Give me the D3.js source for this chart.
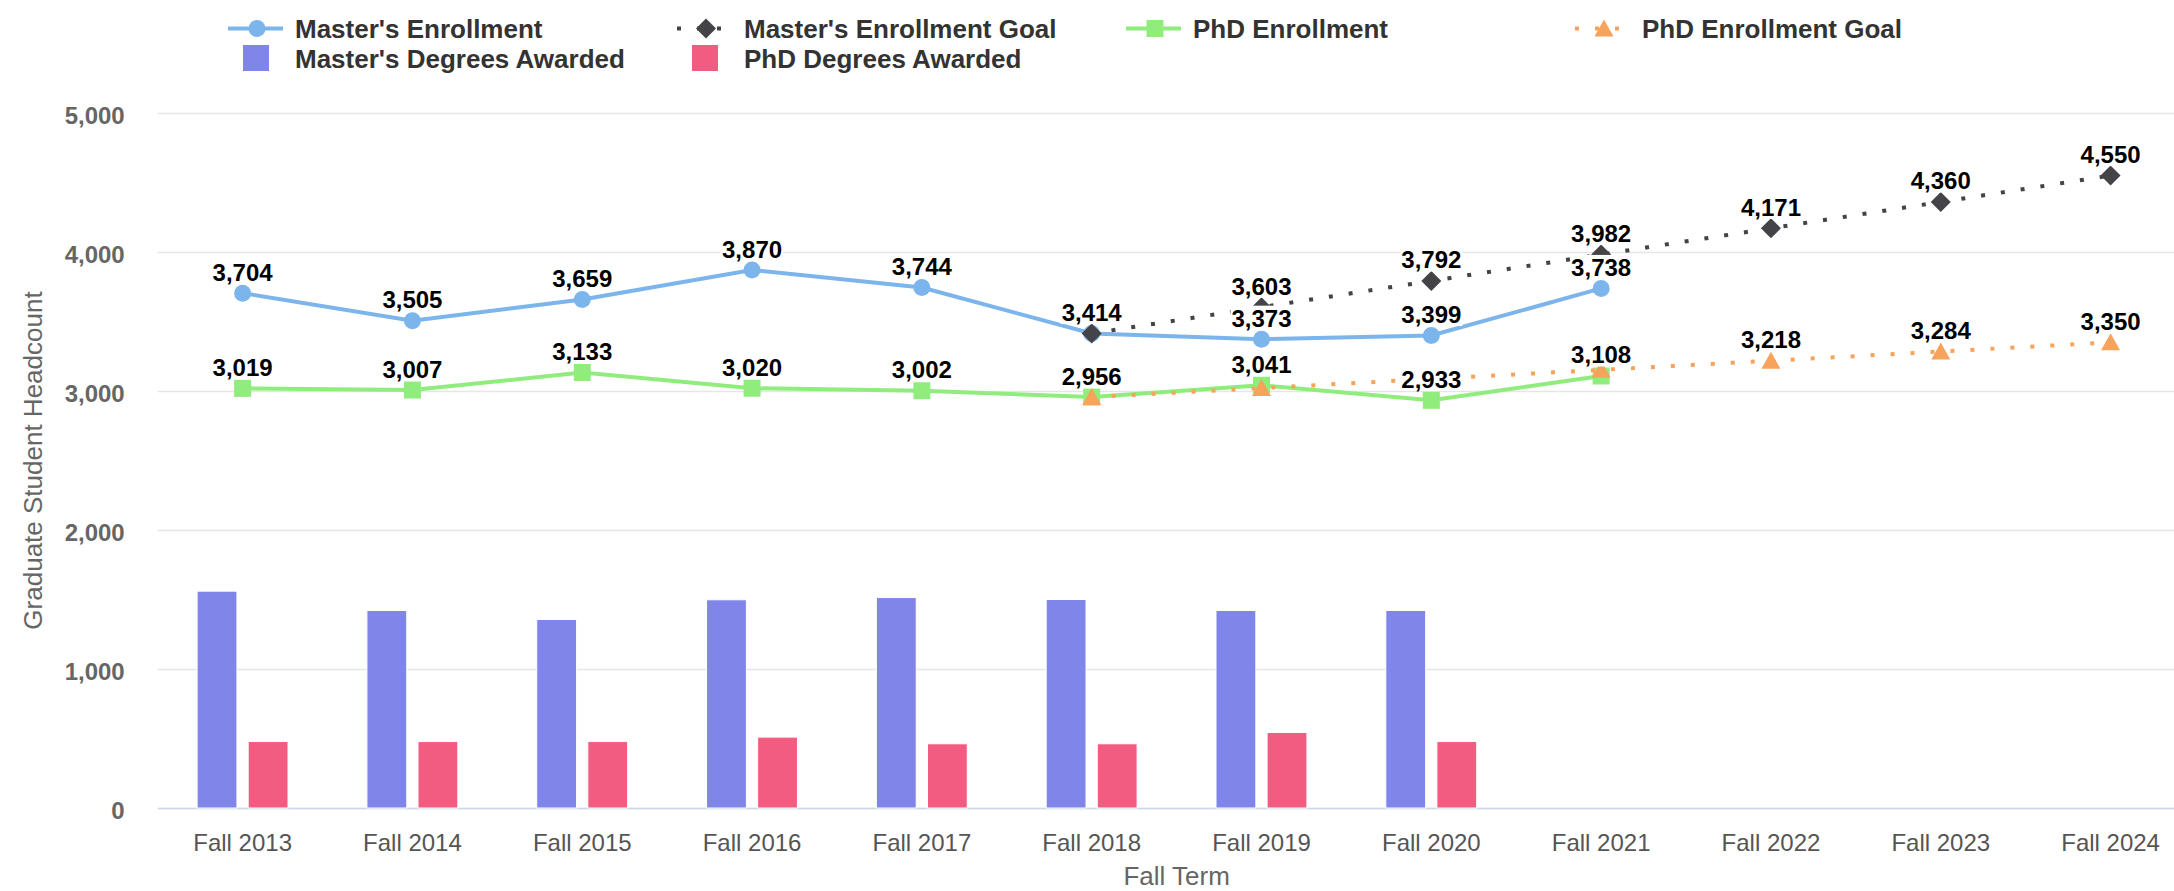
<!DOCTYPE html>
<html>
<head>
<meta charset="utf-8">
<script src="https://cdn.jsdelivr.net/npm/d3@7"></script>
<style>
  body { margin: 0; background: #fff; }
  text { font-family: "Liberation Sans", Arial, sans-serif; }
</style>
</head>
<body>
<svg id="chart" width="2174" height="891"></svg>
<script>
const categories = ["Fall 2013", "Fall 2014", "Fall 2015", "Fall 2016", "Fall 2017", "Fall 2018",
  "Fall 2019", "Fall 2020", "Fall 2021", "Fall 2022", "Fall 2023", "Fall 2024"];
const mastersEnrollment = [3704, 3505, 3659, 3870, 3744, 3414, 3373, 3399, 3738, null, null, null];
const mastersGoal = [null, null, null, null, null, 3414, 3603, 3792, 3982, 4171, 4360, 4550];
const phdEnrollment = [3019, 3007, 3133, 3020, 3002, 2956, 3041, 2933, 3108, null, null, null];
const phdGoal = [null, null, null, null, null, 2956, 3021, 3087, 3152, 3218, 3284, 3350];
const mastersAwarded = [1560, 1421, 1356, 1498, 1514, 1500, 1421, 1421, null, null, null, null];
const phdAwarded = [478, 478, 478, 510, 462, 462, 543, 478, null, null, null, null];
const yTicks = [0, 1000, 2000, 3000, 4000, 5000];

const lineSeries = [
  { name: "Master's Enrollment", values: mastersEnrollment, color: "#7cb5ec", symbol: "circle", dash: null },
  { name: "Master's Enrollment Goal", values: mastersGoal, color: "#434348", symbol: "diamond", dash: "4,16" },
  { name: "PhD Enrollment", values: phdEnrollment, color: "#90ed7d", symbol: "square", dash: null },
  { name: "PhD Enrollment Goal", values: phdGoal, color: "#f7a35c", symbol: "triangle", dash: "4,16" }
];
const barSeries = [
  { name: "Master's Degrees Awarded", values: mastersAwarded, color: "#8085e9" },
  { name: "PhD Degrees Awarded", values: phdAwarded, color: "#f15c80" }
];

const svg = d3.select("#chart");
const width = 2174, height = 891;
const plot = { left: 157.7, right: 2195.5, top: 113, bottom: 808 };

svg.append("rect").attr("width", width).attr("height", height).attr("fill", "#fff");

const x = d3.scaleBand().domain(categories).range([plot.left, plot.right]);
const y = d3.scaleLinear().domain([0, 5000]).range([plot.bottom, plot.top]);
const xBar = d3.scaleBand().domain(barSeries.map(d => d.name)).range([-45.5, 45.4]).paddingInner(0.22);
const cx = c => x(c) + x.bandwidth() / 2;

// grid + y axis
const yAxis = svg.append("g")
  .attr("transform", "translate(" + plot.left + ",0)")
  .call(d3.axisLeft(y).tickValues(yTicks).tickFormat(d3.format(","))
    .tickSize(-(plot.right - plot.left)).tickPadding(33));
yAxis.select(".domain").remove();
yAxis.selectAll(".tick line").attr("stroke", "#e6e6e6").attr("stroke-width", 1.5);
yAxis.selectAll(".tick text")
  .attr("fill", "#666").attr("font-size", 24).attr("font-weight", "bold")
  .attr("dy", "0.45em");

// x axis
const xAxis = svg.append("g")
  .attr("transform", "translate(0," + plot.bottom + ")")
  .call(d3.axisBottom(x).tickSize(0).tickSizeOuter(0).tickPadding(26));
xAxis.select(".domain").attr("stroke", "#ccd6eb").attr("stroke-width", 1.5);
xAxis.selectAll(".tick text")
  .attr("fill", "#555").attr("font-size", 24)
  .attr("dy", "0.71em");

svg.append("text")
  .attr("transform", "translate(42," + (plot.top + plot.bottom) / 2 + ") rotate(-90)")
  .attr("text-anchor", "middle")
  .attr("fill", "#666").attr("font-size", 26)
  .text("Graduate Student Headcount");

svg.append("text")
  .attr("x", (plot.left + plot.right) / 2).attr("y", 885)
  .attr("text-anchor", "middle")
  .attr("fill", "#666").attr("font-size", 26)
  .text("Fall Term");

// bars
barSeries.forEach(s => {
  svg.append("g").selectAll("rect")
    .data(categories.map((c, i) => ({ c: c, v: s.values[i] })).filter(d => d.v != null))
    .enter().append("rect")
    .attr("x", d => cx(d.c) + xBar(s.name))
    .attr("y", d => y(d.v))
    .attr("width", xBar.bandwidth())
    .attr("height", d => y(0) - y(d.v))
    .attr("fill", s.color)
    .attr("stroke", "#fff").attr("stroke-width", 1);
});

const r = 8.5;
function markerPath(symbol) {
  if (symbol === "circle") return d3.symbol(d3.symbolCircle, Math.PI * r * r)();
  if (symbol === "square") return d3.symbol(d3.symbolSquare, 4 * r * r)();
  if (symbol === "diamond") return "M0,-10L10,0L0,10L-10,0Z";
  return "M0,-9L9.5,8L-9.5,8Z";
}

// lines and markers
lineSeries.forEach(s => {
  const pts = categories.map((c, i) => ({ c: c, v: s.values[i] })).filter(d => d.v != null);
  const g = svg.append("g");
  g.append("path")
    .attr("d", d3.line().x(d => cx(d.c)).y(d => y(d.v))(pts))
    .attr("fill", "none")
    .attr("stroke", s.color)
    .attr("stroke-width", 4)
    .attr("stroke-dasharray", s.dash);
  g.selectAll(".marker")
    .data(pts)
    .enter().append("path")
    .attr("transform", d => "translate(" + cx(d.c) + "," + y(d.v) + ")")
    .attr("d", markerPath(s.symbol))
    .attr("fill", s.color);
});

// data labels: actual series first, goal labels hidden when they overlap
const labelLayer = svg.append("g");
const placed = [];
const labelOrder = [lineSeries[0], lineSeries[2], lineSeries[1], lineSeries[3]];
labelOrder.forEach(s => {
  categories.forEach((c, i) => {
    const v = s.values[i];
    if (v == null) return;
    const base = y(v) - 12.5;
    const lg = labelLayer.append("g");
    const t = lg.append("text")
      .attr("x", cx(c)).attr("y", base)
      .attr("text-anchor", "middle")
      .attr("font-size", 24).attr("font-weight", "bold")
      .attr("fill", "#000")
      .text(d3.format(",")(v));
    const bb = t.node().getBBox();
    const box = { x0: bb.x - 1, x1: bb.x + bb.width + 1, y0: base - 21, y1: base + 3 };
    const hit = placed.some(p => box.x0 < p.x1 && box.x1 > p.x0 && box.y0 < p.y1 && box.y1 > p.y0);
    if (hit) { lg.remove(); return; }
    placed.push(box);
    lg.insert("rect", "text")
      .attr("x", box.x0).attr("y", box.y0)
      .attr("width", box.x1 - box.x0).attr("height", box.y1 - box.y0)
      .attr("fill", "#fff");
  });
});

// legend
const legendItems = [
  { s: lineSeries[0], col: 0, row: 0, kind: "line" },
  { s: lineSeries[1], col: 1, row: 0, kind: "line" },
  { s: lineSeries[2], col: 2, row: 0, kind: "line" },
  { s: lineSeries[3], col: 3, row: 0, kind: "line" },
  { s: barSeries[0], col: 0, row: 1, kind: "bar" },
  { s: barSeries[1], col: 1, row: 1, kind: "bar" }
];
const legend = svg.append("g");
legendItems.forEach(it => {
  const lx = 228 + it.col * 449;
  const base = 37.5 + it.row * 30.5;
  const g = legend.append("g");
  if (it.kind === "line") {
    g.append("line")
      .attr("x1", lx).attr("x2", lx + 55)
      .attr("y1", base - 9).attr("y2", base - 9)
      .attr("stroke", it.s.color).attr("stroke-width", 4)
      .attr("stroke-dasharray", it.s.dash);
    g.append("path")
      .attr("transform", "translate(" + (lx + 29) + "," + (base - 9) + ")")
      .attr("d", markerPath(it.s.symbol))
      .attr("fill", it.s.color);
  } else {
    g.append("rect")
      .attr("x", lx + 15).attr("y", base - 23)
      .attr("width", 26).attr("height", 26)
      .attr("fill", it.s.color);
  }
  g.append("text")
    .attr("x", lx + 67).attr("y", base)
    .attr("font-size", 26).attr("font-weight", "bold")
    .attr("fill", "#333")
    .text(it.s.name);
});
</script>
</body>
</html>
